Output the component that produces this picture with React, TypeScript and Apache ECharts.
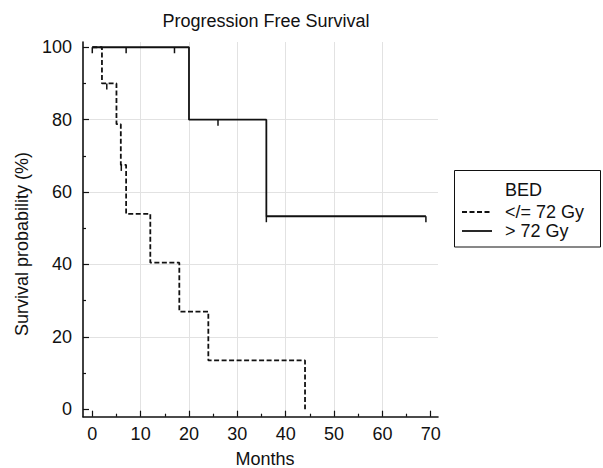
import React, { useEffect, useRef } from 'react';
import * as echarts from 'echarts';

const xMajorTicks = [0, 10, 20, 30, 40, 50, 60, 70];
const xMinorTicks = [5, 15, 25, 35, 45, 55, 65];
const yMajorTicks = [0, 20, 40, 60, 80, 100];
const yMinorTicks = [10, 30, 50, 70, 90];

// Kaplan-Meier steps (months, survival %)
const lowDoseSteps = [[0, 100], [2, 90], [5, 78.75], [5.9, 67.5], [7, 54], [12, 40.5], [18, 27], [24, 13.5], [44, 0]];
const lowDoseCensored = [[3, 90], [6, 67.5]];
const highDoseSteps = [[0, 100], [20, 80], [36, 53.33], [69, 53.33]];
const highDoseCensored = [[0, 100], [7, 100], [17, 100], [26, 80], [36, 53.33], [69, 53.33]];

const legendTitle = 'BED';
const seriesNames = ['</= 72 Gy', '> 72 Gy'];

const FONT = '"Liberation Sans", Arial, Helvetica, sans-serif';
const INK = '#111';
const GRID_COLOR = '#e2e2e2';

const X_MIN = -1.92, X_MAX = 71.5;
const Y_MIN = -2.04, Y_MAX = 101.45;
const gridBox = { left: 83, right: 165, top: 42, bottom: 51.3 };

const censorRender = (params: any, api: any) => {
  const p = api.coord([api.value(0), api.value(1)]);
  return {
    type: 'line',
    shape: { x1: p[0], y1: p[1], x2: p[0], y2: p[1] + 6 },
    style: { stroke: INK, lineWidth: 1.5 },
  };
};

export default function App() {
  const ref = useRef<HTMLDivElement>(null);
  useEffect(() => {
    if (!ref.current) return;
    const chart = echarts.init(ref.current, null, { renderer: 'svg' });
    const baseX = {
      type: 'value', min: X_MIN, max: X_MAX, minInterval: 10, maxInterval: 10,
    };
    const baseY = {
      type: 'value', min: Y_MIN, max: Y_MAX, minInterval: 20, maxInterval: 20,
    };
    chart.setOption({
      animation: false,
      backgroundColor: '#fff',
      textStyle: { fontFamily: FONT },
      grid: [
        { ...gridBox, containLabel: false },
        { ...gridBox, containLabel: false },
      ],
      xAxis: [
        {
          ...baseX, gridIndex: 0,
          axisLine: { show: true, onZero: false, lineStyle: { color: INK, width: 1.6 } },
          axisTick: { show: true, inside: true, length: 6, customValues: xMajorTicks, lineStyle: { color: INK, width: 1.2 } },
          axisLabel: { show: true, customValues: xMajorTicks, margin: 8, fontSize: 18, color: INK, fontFamily: FONT },
          splitLine: { show: true, showMinLine: false, showMaxLine: false, lineStyle: { color: GRID_COLOR, width: 1 } },
        },
        {
          ...baseX, gridIndex: 1,
          axisLine: { show: false, onZero: false },
          axisTick: { show: true, inside: true, length: 3, customValues: xMinorTicks, lineStyle: { color: INK, width: 1.2 } },
          axisLabel: { show: false },
          splitLine: { show: false },
        },
      ],
      yAxis: [
        {
          ...baseY, gridIndex: 0,
          axisLine: { show: true, onZero: false, lineStyle: { color: INK, width: 1.6 } },
          axisTick: { show: true, inside: true, length: 6, customValues: yMajorTicks, lineStyle: { color: INK, width: 1.2 } },
          axisLabel: { show: true, customValues: yMajorTicks, margin: 11, fontSize: 18, color: INK, fontFamily: FONT },
          splitLine: { show: true, showMinLine: false, showMaxLine: false, lineStyle: { color: GRID_COLOR, width: 1 } },
        },
        {
          ...baseY, gridIndex: 1,
          axisLine: { show: false, onZero: false },
          axisTick: { show: true, inside: true, length: 3, customValues: yMinorTicks, lineStyle: { color: INK, width: 1.2 } },
          axisLabel: { show: false },
          splitLine: { show: false },
        },
      ],
      series: [
        {
          name: seriesNames[0], type: 'line', xAxisIndex: 0, yAxisIndex: 0,
          step: 'end', symbol: 'none', data: lowDoseSteps,
          lineStyle: { color: INK, width: 1.8, type: [5, 2.5] },
          z: 3,
        },
        {
          name: seriesNames[1], type: 'line', xAxisIndex: 0, yAxisIndex: 0,
          step: 'end', symbol: 'none', data: highDoseSteps,
          lineStyle: { color: INK, width: 1.8 },
          z: 3,
        },
        {
          type: 'custom', xAxisIndex: 0, yAxisIndex: 0, data: lowDoseCensored,
          renderItem: censorRender, z: 4,
        },
        {
          type: 'custom', xAxisIndex: 0, yAxisIndex: 0, data: highDoseCensored,
          renderItem: censorRender, z: 4,
        },
      ],
      graphic: [
        {
          type: 'text', x: 266, y: 21,
          style: { text: 'Progression Free Survival', fontSize: 18, fontFamily: FONT, fill: INK, textAlign: 'center', textVerticalAlign: 'middle' },
        },
        {
          type: 'text', x: 265, y: 458.5,
          style: { text: 'Months', fontSize: 18, fontFamily: FONT, fill: INK, textAlign: 'center', textVerticalAlign: 'middle' },
        },
        {
          type: 'text', x: 22, y: 244, rotation: Math.PI / 2,
          style: { text: 'Survival probability (%)', fontSize: 18, fontFamily: FONT, fill: INK, textAlign: 'center', textVerticalAlign: 'middle' },
        },
        {
          type: 'rect', shape: { x: 454.5, y: 170.5, width: 146, height: 76.5 },
          style: { fill: '#fff', stroke: INK, lineWidth: 1 },
        },
        {
          type: 'text', x: 505, y: 190,
          style: { text: legendTitle, fontSize: 18, fontFamily: FONT, fill: INK, textAlign: 'left', textVerticalAlign: 'middle' },
        },
        {
          type: 'line', shape: { x1: 462, y1: 212, x2: 492, y2: 212 },
          style: { stroke: INK, lineWidth: 1.8, lineDash: [5, 2.5] },
        },
        {
          type: 'text', x: 505, y: 212,
          style: { text: seriesNames[0], fontSize: 18, fontFamily: FONT, fill: INK, textAlign: 'left', textVerticalAlign: 'middle' },
        },
        {
          type: 'line', shape: { x1: 462, y1: 231, x2: 492, y2: 231 },
          style: { stroke: INK, lineWidth: 1.8 },
        },
        {
          type: 'text', x: 505, y: 231,
          style: { text: seriesNames[1], fontSize: 18, fontFamily: FONT, fill: INK, textAlign: 'left', textVerticalAlign: 'middle' },
        },
      ],
    });
    return () => chart.dispose();
  }, []);
  return <div ref={ref} style={{ width: 603, height: 468, position: 'absolute', left: 0, top: 0 }} />;
}
